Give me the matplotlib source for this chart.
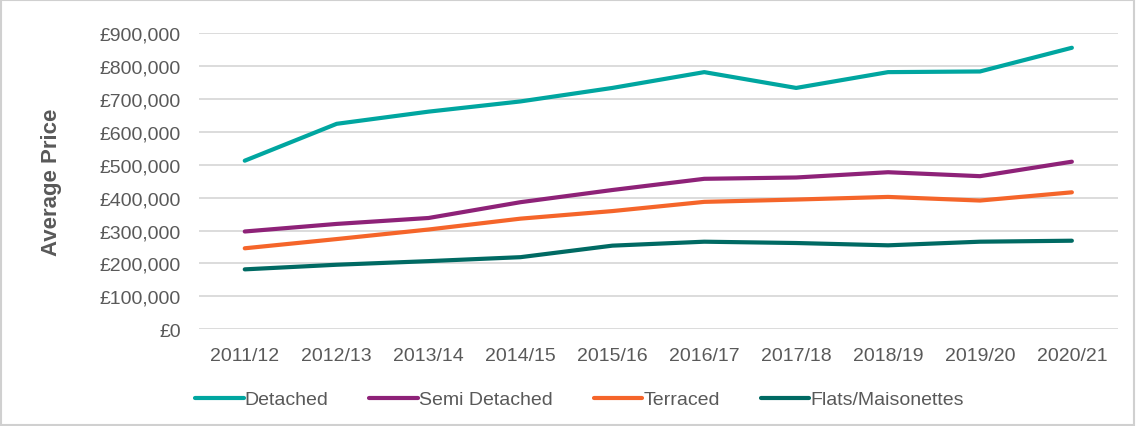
import matplotlib.pyplot as plt
from matplotlib.ticker import FuncFormatter
from matplotlib.patches import Rectangle

plt.rcParams['font.family'] = ['Liberation Sans', 'DejaVu Sans']

# Financial years
years = ['2011/12', '2012/13', '2013/14', '2014/15', '2015/16',
         '2016/17', '2017/18', '2018/19', '2019/20', '2020/21']

# Average price by property type
detached = [512000, 624000, 661000, 692000, 733000, 781000, 733000, 781000, 783000, 855000]
semi_detached = [297000, 320000, 338000, 386000, 423000, 457000, 461000, 477000, 465000, 509000]
terraced = [246000, 274000, 303000, 336000, 359000, 387000, 394000, 402000, 391000, 416000]
flats = [182000, 196000, 207000, 219000, 254000, 266000, 262000, 255000, 266000, 269000]

series = [
    ('Detached', detached, '#00A6A0'),
    ('Semi Detached', semi_detached, '#8E2278'),
    ('Terraced', terraced, '#F5652A'),
    ('Flats/Maisonettes', flats, '#006A63'),
]

fig = plt.figure(figsize=(11.36, 4.27), dpi=100)
ax = fig.add_axes([0.175, 0.2265, 0.809, 0.694])

x = range(len(years))
for name, vals, col in series:
    ax.plot(x, vals, color=col, lw=3, label=name, solid_capstyle='round')

ax.set_xlim(-0.5, len(years) - 0.5)
ax.set_ylim(0, 900000)
ax.set_yticks(range(0, 900001, 100000))
ax.yaxis.set_major_formatter(FuncFormatter(lambda v, p: '£{:,.0f}'.format(v)))
ax.set_xticks(list(x))
ax.set_xticklabels(years)

ax.grid(axis='y', color='#D9D9D9', lw=1.3)
ax.set_axisbelow(True)
for s in ax.spines.values():
    s.set_visible(False)
ax.tick_params(axis='both', length=0, labelsize=14, colors='#595959')
ax.tick_params(axis='y', pad=13)
ax.tick_params(axis='x', pad=13)

ax.set_ylabel('Average Price', fontsize=16, fontweight='bold', color='#595959', labelpad=27)

fig.legend(loc='center', bbox_to_anchor=(0.51, 0.062), ncol=4, frameon=False,
           fontsize=14, handlelength=2.5, handletextpad=0.05, columnspacing=2.1,
           labelcolor='#595959')

# light grey frame around the whole chart
fig.patches.append(Rectangle((0.001, 0.002), 0.997, 0.995, transform=fig.transFigure,
                             fill=False, ec='#D0D0D0', lw=1.5))

fig.savefig('out.png', dpi=100)
